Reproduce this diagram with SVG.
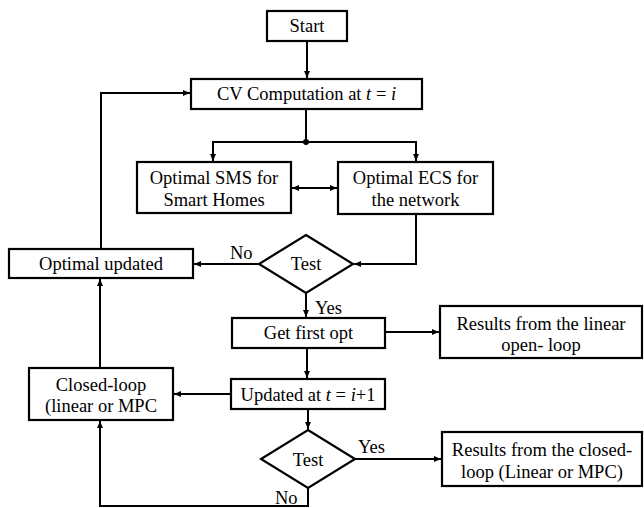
<svg xmlns="http://www.w3.org/2000/svg" width="644" height="508" viewBox="0 0 644 508">
<defs>
<marker id="ah" markerUnits="userSpaceOnUse" markerWidth="8" markerHeight="8" refX="7" refY="4" orient="auto-start-reverse">
<path d="M0,1 L7,4 L0,7 Z" fill="#000"/>
</marker>
</defs>
<style>
.box{fill:#fff;stroke:#000;stroke-width:2.2}
text{font-family:'Liberation Serif',serif;font-size:18.5px;fill:#000}
.t{text-anchor:middle}
.c{fill:none;stroke:#000;stroke-width:2}
</style>
<rect width="644" height="508" fill="#fff"/>
<g id="connectors" font-family="Liberation Serif" font-size="18.5">
<path class="c" d="M307 41 V78" marker-end="url(#ah)"/>
<path class="c" d="M306 109 V142"/>
<circle cx="306" cy="142" r="3" fill="#000"/>
<path class="c" d="M306 142 H213 V161" marker-end="url(#ah)"/>
<path class="c" d="M306 142 H416 V161" marker-end="url(#ah)"/>
<path class="c" d="M292 188 H337" marker-start="url(#ah)" marker-end="url(#ah)"/>
<path class="c" d="M416 214 V264 H354" marker-end="url(#ah)"/>
<path class="c" d="M259 264 H194" marker-end="url(#ah)"/>
<path class="c" d="M101 249 V93 H190" marker-end="url(#ah)"/>
<path class="c" d="M306 293 V317" marker-end="url(#ah)"/>
<path class="c" d="M385 332 H439" marker-end="url(#ah)"/>
<path class="c" d="M307 348 V378" marker-end="url(#ah)"/>
<path class="c" d="M231 394 H174" marker-end="url(#ah)"/>
<path class="c" d="M308 409 V429" marker-end="url(#ah)"/>
<path class="c" d="M355 459 H441" marker-end="url(#ah)"/>
<path class="c" d="M308 488 V506 H100 V421" marker-end="url(#ah)"/>
<path class="c" d="M100 368 V279" marker-end="url(#ah)"/>
<text x="230" y="259">No</text>
<text x="315" y="314">Yes</text>
<text x="358" y="453">Yes</text>
<text x="275" y="504">No</text>
</g>
<g id="start">
<rect class="box" x="267" y="11" width="80" height="30"/>
<text class="t" x="307" y="32">Start</text>
</g>
<g id="cv">
<rect class="box" x="191" y="79" width="231" height="30"/>
<text class="t" x="306.5" y="100">CV Computation at <tspan font-style="italic">t</tspan> = <tspan font-style="italic">i</tspan></text>
</g>
<g id="sms">
<rect class="box" x="137" y="162" width="154" height="51"/>
<text class="t" x="214" y="184">Optimal SMS for</text>
<text class="t" x="214" y="206">Smart Homes</text>
</g>
<g id="ecs">
<rect class="box" x="338" y="162" width="155" height="52"/>
<text class="t" x="415.5" y="184">Optimal ECS for</text>
<text class="t" x="415.5" y="206">the network</text>
</g>
<g id="optimal-updated">
<rect class="box" x="9" y="249" width="184" height="29"/>
<text class="t" x="101" y="270">Optimal updated</text>
</g>
<g id="test1">
<polygon class="box" points="306,235 353,264 306,293 259,264"/>
<text class="t" x="306" y="270">Test</text>
</g>
<g id="get-first">
<rect class="box" x="232" y="318" width="153" height="30"/>
<text class="t" x="308.5" y="339">Get first opt</text>
</g>
<g id="results-open">
<rect class="box" x="440" y="306" width="202" height="52"/>
<text class="t" x="541" y="330">Results from the linear</text>
<text class="t" x="541" y="351">open- loop</text>
</g>
<g id="closed-loop">
<rect class="box" x="29" y="368" width="144" height="52"/>
<text class="t" x="101" y="391">Closed-loop</text>
<text class="t" x="101" y="412">(linear or MPC</text>
</g>
<g id="updated">
<rect class="box" x="231" y="379" width="154" height="30"/>
<text class="t" x="308" y="401">Updated at <tspan font-style="italic">t</tspan> = <tspan font-style="italic">i</tspan>+1</text>
</g>
<g id="test2">
<polygon class="box" points="308,430 355,459 308,488 261,459"/>
<text class="t" x="308" y="466">Test</text>
</g>
<g id="results-closed">
<rect class="box" x="442" y="432" width="200" height="54"/>
<text class="t" x="542" y="456">Results from the closed-</text>
<text class="t" x="542" y="478">loop (Linear or MPC)</text>
</g>
</svg>
